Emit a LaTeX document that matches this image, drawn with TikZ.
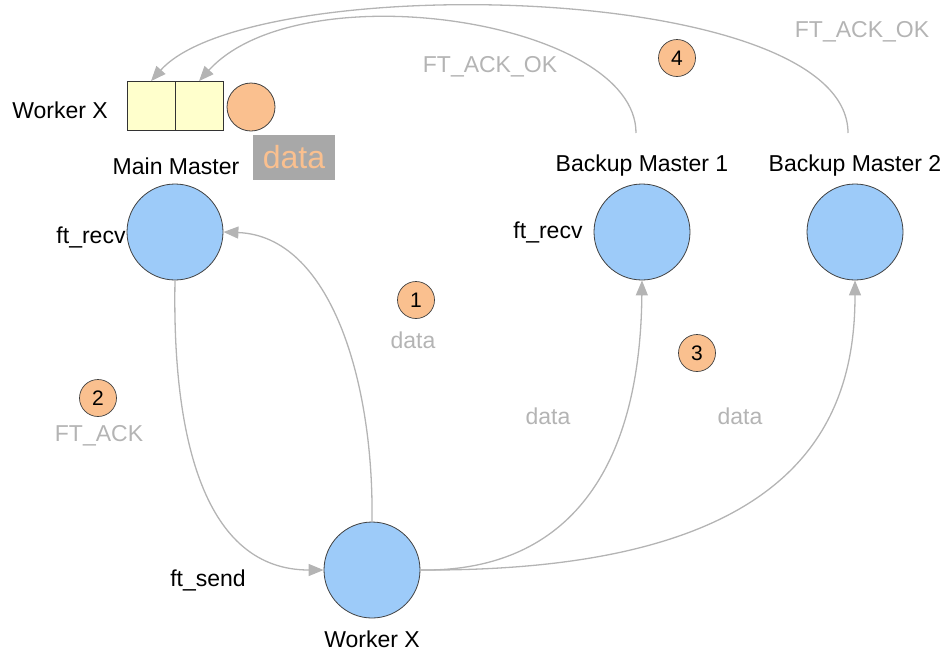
\documentclass[tikz,border=0pt]{standalone}
\usepackage{fontspec}
\setmainfont{Liberation Sans}
\usetikzlibrary{arrows.meta}
\definecolor{nodeblue}{HTML}{9DCBF9}
\definecolor{badge}{HTML}{FAC08F}
\definecolor{slot}{HTML}{FFFFCC}
\definecolor{wire}{HTML}{B4B4B4}
\definecolor{boxgray}{HTML}{A8A8A8}
\tikzset{
  proc/.style={circle, draw=black!75, line width=0.8pt, fill=nodeblue, minimum size=96pt, inner sep=0pt},
  lbl/.style={font=\fontsize{23}{27}\selectfont, text=black, inner sep=0pt},
  msg/.style={font=\fontsize{23}{27}\selectfont, text=wire, inner sep=0pt},
  stepno/.style={circle, draw=black!75, line width=0.7pt, fill=badge, minimum size=37pt, inner sep=0pt, font=\fontsize{21}{25}\selectfont},
  flow/.style={draw=wire, line width=1.3pt, -{Triangle[length=15pt,width=12pt]}},
  slotbox/.style={draw=black!80, line width=0.8pt, fill=slot, minimum width=48pt, minimum height=49pt, inner sep=0pt}
}
\begin{document}
\begin{tikzpicture}[x=1pt,y=-1pt]
\useasboundingbox (0,0) rectangle (944,657);

% processes
\node[proc] (mm)  at (175,232) {};
\node[proc] (bm1) at (642,232) {};
\node[proc] (bm2) at (855,232) {};
\node[proc] (wx)  at (372,570) {};

\node[lbl] (mmL)  at (176,166) {Main Master};
\node[lbl] (bm1L) at (642,166) {Backup Master 1};
\node[lbl] (bm2L) at (855,166) {Backup Master 2};
\node[lbl] (wxL)  at (372,639) {Worker X};
\node[lbl] (r1)   at (91,237)  {ft\_recv};
\node[lbl] (r2)   at (548,232) {ft\_recv};
\node[lbl] (snd)  at (208,580) {ft\_send};

% worker queue at the main master
\node[lbl] (qL) at (60,110) {Worker X};
\node[slotbox] (q1) at (151,106) {};
\node[slotbox] (q2) at (199,106) {};
\node[circle, draw=black!75, line width=0.8pt, fill=badge, minimum size=48pt, inner sep=0pt] (tok) at (251,107) {};
\node[fill=boxgray, minimum width=82pt, minimum height=45pt, inner sep=0pt,
      text=badge, font=\fontsize{32}{36}\selectfont] (dbox) at (294,157) {data};

% step badges and message labels
\node[stepno] (s1) at (416,300) {1};
\node[msg] (m1) at (413,340) {data};
\node[stepno] (s2) at (98,398) {2};
\node[msg] (m2) at (99,436) {FT\_ACK};
\node[stepno] (s3) at (697,353) {3};
\node[msg] (m3a) at (548,416) {data};
\node[msg] (m3b) at (740,416) {data};
\node[stepno] (s4) at (677,58) {4};
\node[msg] (m4a) at (490,67) {FT\_ACK\_OK};
\node[msg] (m4b) at (862,32) {FT\_ACK\_OK};

% messages
\draw[flow] (wx.north) .. controls (374,380) and (330,236) .. (mm.east);
\draw[flow] (mm.south) .. controls (172,440) and (205,570) .. (wx.west);
\draw[flow] (wx.east) .. controls (560,572) and (640,480) .. (bm1.south);
\draw[flow] (wx.east) .. controls (800,572) and (855,420) .. (bm2.south);
\coordinate (bm1t) at (636,133);
\coordinate (bm2t) at (848,133);
\draw[flow] (bm1t) .. controls (636,20) and (300,-30) .. (q2.north);
\draw[flow] (bm2t) .. controls (848,-20) and (250,-30) .. (q1.north);
\end{tikzpicture}
\end{document}
